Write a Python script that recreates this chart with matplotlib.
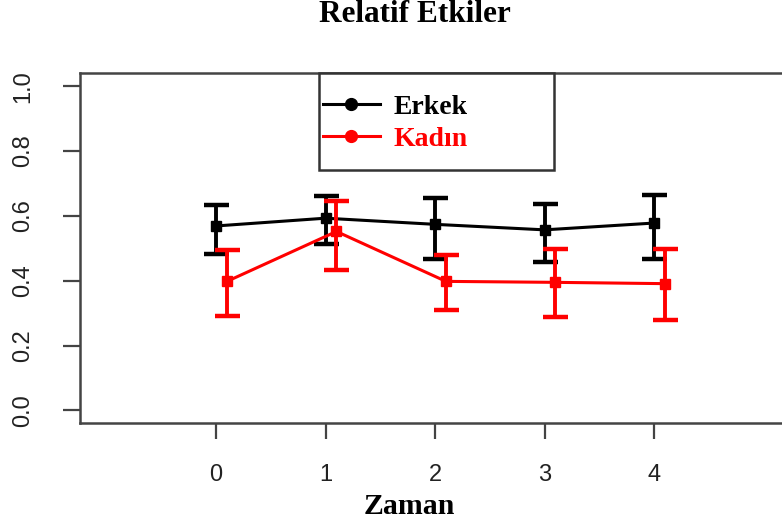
import matplotlib.pyplot as plt
from matplotlib.lines import Line2D
from matplotlib.patches import Rectangle

# values
zaman = [0, 1, 2, 3, 4]
erkek = [0.569, 0.593, 0.574, 0.557, 0.578]
erkek_ust = [0.633, 0.660, 0.654, 0.637, 0.665]
erkek_alt = [0.482, 0.514, 0.467, 0.459, 0.467]
kadin = [0.398, 0.552, 0.398, 0.395, 0.391]
kadin_ust = [0.495, 0.645, 0.480, 0.497, 0.497]
kadin_alt = [0.292, 0.434, 0.311, 0.288, 0.278]
kaydir = 0.1  # red series drawn slightly to the right
yticks = [0.0, 0.2, 0.4, 0.6, 0.8, 1.0]

fig = plt.figure(figsize=(7.82, 5.26), dpi=100)
ax = fig.add_axes([0.1023, 0.1952, 0.9207, 0.6654])

# Erkek
e_err = [[m - a for m, a in zip(erkek, erkek_alt)],
         [u - m for m, u in zip(erkek, erkek_ust)]]
ax.errorbar(zaman, erkek, yerr=e_err, color='black', lw=2.2, marker='s', ms=7.5,
            ecolor='black', elinewidth=2.8, capsize=9, capthick=3.2, zorder=3)

# Kadin
kx = [z + kaydir for z in zaman]
k_err = [[m - a for m, a in zip(kadin, kadin_alt)],
         [u - m for m, u in zip(kadin, kadin_ust)]]
ax.errorbar(kx, kadin, yerr=k_err, color='red', lw=2.2, marker='s', ms=7.5,
            ecolor='red', elinewidth=2.8, capsize=9, capthick=3.2, zorder=4)

ax.set_xlim(-1.242, 5.333)
ax.set_ylim(-0.04, 1.04)
ax.set_xticks(zaman)
ax.set_yticks(yticks)
ax.set_yticklabels([f'{v:.1f}' for v in yticks], rotation=90, va='center')

for s in ['left', 'bottom', 'top']:
    ax.spines[s].set_color('#444444')
    ax.spines[s].set_linewidth(1.8)
ax.spines['right'].set_visible(False)
ax.tick_params(axis='both', colors='#444444', labelcolor='#222222',
               width=1.6, labelsize=17)
ax.tick_params(axis='y', length=12, pad=21)
ax.tick_params(axis='x', length=11.5, pad=18)
for lab in ax.get_xticklabels() + ax.get_yticklabels():
    lab.set_family('Liberation Sans')

# legend box and entries
ax.add_patch(Rectangle((0.332, 0.724), 0.326, 0.276, transform=ax.transAxes,
                       fill=True, facecolor='white', edgecolor='#333333',
                       lw=1.8, zorder=5, clip_on=False))
handles = [Line2D([], [], color='black', lw=2.2, marker='o', ms=8.5),
           Line2D([], [], color='red', lw=2.2, marker='o', ms=8.5)]
leg = ax.legend(handles, ['Erkek', 'Kadın'], loc='upper left',
                bbox_to_anchor=(0.3375, 0.94), frameon=False,
                borderaxespad=0, borderpad=0, handlelength=2.05,
                handletextpad=0.5, labelspacing=0.25,
                prop={'family': 'Liberation Serif', 'weight': 'bold', 'size': 20},
                labelcolor=['black', 'red'])
leg.set_zorder(6)

fig.text(415 / 782, 1 - 15 / 526, 'Relatif Etkiler', ha='center', va='center',
         family='Liberation Serif', weight='bold', fontsize=22.5)
fig.text(409 / 782, 1 - 507 / 526, 'Zaman', ha='center', va='center',
         family='Liberation Serif', weight='bold', fontsize=21.5)

fig.savefig('out.png', dpi=100)
